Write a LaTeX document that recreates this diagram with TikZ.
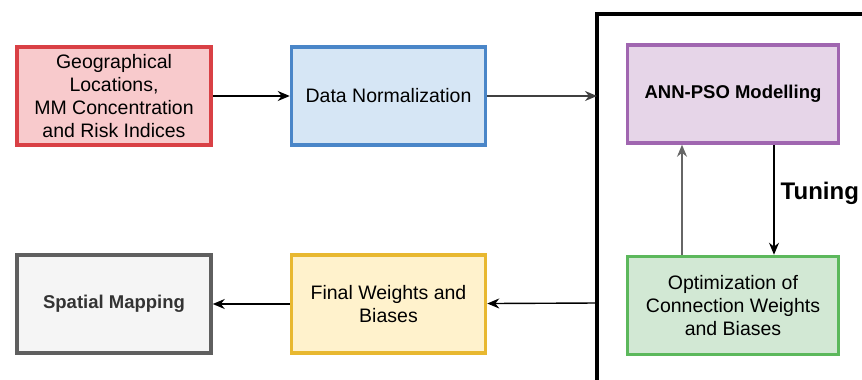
\documentclass[tikz,border=0pt]{standalone}
\usepackage{fontspec}
\setmainfont{Liberation Sans}
\usetikzlibrary{positioning,arrows.meta}

\definecolor{redline}{HTML}{D94045}
\definecolor{redfill}{HTML}{F8CACC}
\definecolor{blueline}{HTML}{4A86C8}
\definecolor{bluefill}{HTML}{D6E6F5}
\definecolor{purpleline}{HTML}{A066B0}
\definecolor{purplefill}{HTML}{E6D5E8}
\definecolor{greenline}{HTML}{5CB85C}
\definecolor{greenfill}{HTML}{D2E8D4}
\definecolor{yellowline}{HTML}{E8B830}
\definecolor{yellowfill}{HTML}{FFF2CC}
\definecolor{greyline}{HTML}{5F5F5F}
\definecolor{greyfill}{HTML}{F5F5F5}

\begin{document}
\begin{tikzpicture}[x=1pt, y=-1pt,
	box/.style={rectangle, line width=3.5pt, minimum width=194pt,
	minimum height=98pt, align=center, inner sep=2pt,
	font=\fontsize{19.5}{23}\selectfont},
	widebox/.style={box, minimum width=211pt},
	conn/.style={-{Stealth[length=12pt,width=10pt]}, line width=1.4pt}
	]
	\useasboundingbox (0,0) rectangle (862,380);
	\clip (0,0) rectangle (862,380);
	
	% outer frame
	\draw[line width=4pt] (597,400) -- (597,14) -- (900,14);
	\coordinate (frin) at (597,96);
	\coordinate (frout) at (597,303);
	
	\node[box, draw=redline, fill=redfill] (geo) at (114,96)
	{Geographical\\Locations,\\MM Concentration\\and Risk Indices};
	\node[box, draw=blueline, fill=bluefill] (norm) [right=77pt of geo]
	{Data Normalization};
	\node[widebox, draw=purpleline, fill=purplefill, font=\fontsize{18.5}{22}\selectfont\bfseries]
	(ann) at (733,94) {ANN-PSO Modelling};
	\node[widebox, draw=greenline, fill=greenfill] (opt) [below=110pt of ann]
	{Optimization of\\Connection Weights\\and Biases};
	\node[box, draw=greyline, fill=greyfill, text=black!80, font=\fontsize{18.5}{22}\selectfont\bfseries]
	(map) at (114,304) {Spatial Mapping};
	\node[box, draw=yellowline, fill=yellowfill] (final) [right=77pt of map]
	{Final Weights and\\Biases};
	
	\draw[conn] (geo) -- (norm);
	\draw[conn, black!75] (norm.east) -- (frin);
	\draw[conn, black!60] ([xshift=-51pt]opt.north) -- ([xshift=-51pt]ann.south);
	\draw[conn] ([xshift=41pt]ann.south) -- ([xshift=41pt]opt.north)
	node[pos=0.44, anchor=west, inner sep=6pt, font=\fontsize{24}{28}\selectfont\bfseries] (tun) {Tuning};
	\draw[conn] (frout) -- (final);
	\draw[conn] (final) -- (map);
\end{tikzpicture}
\end{document}
